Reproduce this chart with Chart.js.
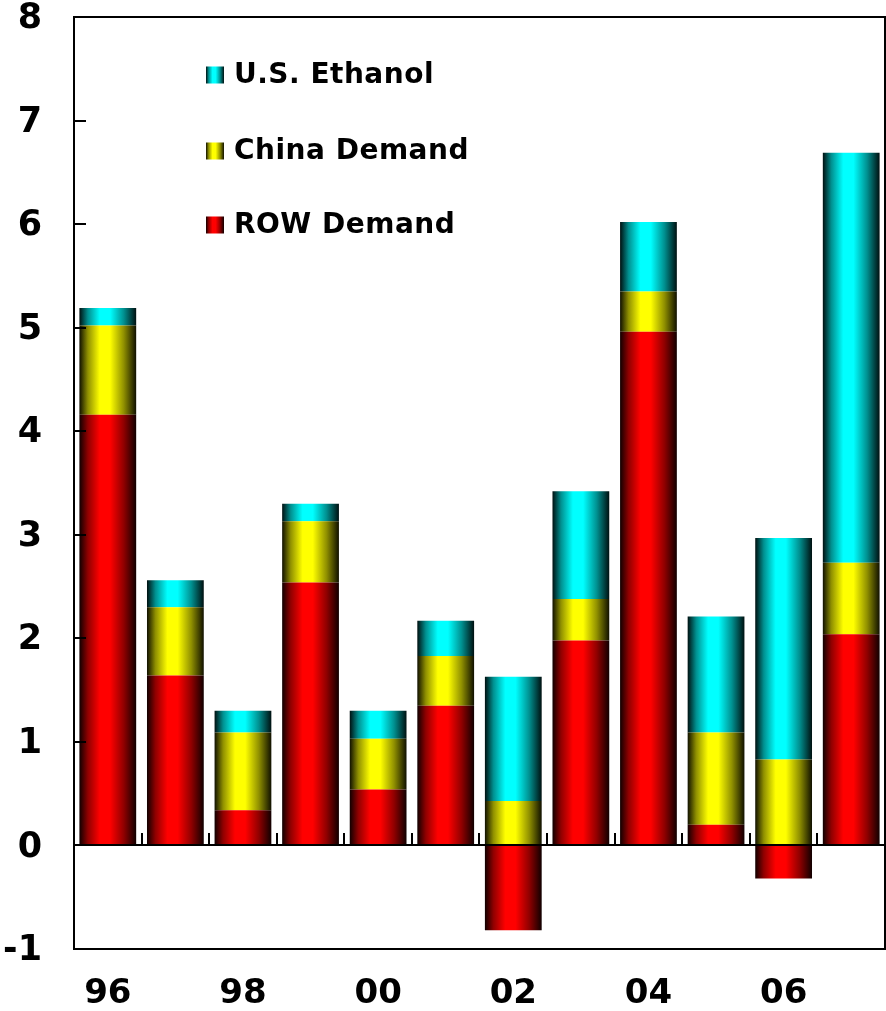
<!DOCTYPE html>
<html>
<head>
<meta charset="utf-8">
<script src="https://cdn.jsdelivr.net/npm/chart.js@4/dist/chart.umd.min.js"></script>
<style>
  html, body { margin: 0; padding: 0; background: #ffffff; }
  #wrap { width: 886px; height: 1011px; }
</style>
</head>
<body>
<div id="wrap"><canvas id="c" width="886" height="1011"></canvas></div>
<script>
// Year labels (two-digit) and demand contributions per year
const categories = ['96','97','98','99','00','01','02','03','04','05','06','07'];
const rowDemand   = [4.16, 1.64, 0.34, 2.54, 0.54, 1.35, -0.82, 1.98, 4.96, 0.20, -0.32, 2.04];
const chinaDemand = [0.86, 0.66, 0.75, 0.59, 0.49, 0.48, 0.43, 0.40, 0.39, 0.89, 0.83, 0.69];
const usEthanol   = [0.17, 0.26, 0.21, 0.17, 0.27, 0.34, 1.20, 1.04, 0.67, 1.12, 2.14, 3.96];
const seriesNames = ['ROW Demand', 'China Demand', 'U.S. Ethanol'];
const yMin = -1, yMax = 8;

const FONT = '"DejaVu Sans", Verdana, sans-serif';
const BAR_PCT = 0.84;

// Bright colour, dark edge colour and mid-shade for the cylinder shading
const palette = {
  red:    ['#ff0000', '#100000', '#900000'],
  yellow: ['#ffff00', '#101000', '#909000'],
  cyan:   ['#00ffff', '#001010', '#009090']
};

function cylGradient(ctx2d, left, right, cols) {
  const g = ctx2d.createLinearGradient(left, 0, right, 0);
  g.addColorStop(0.00, cols[1]);
  g.addColorStop(0.15, cols[2]);
  g.addColorStop(0.36, cols[0]);
  g.addColorStop(0.54, cols[0]);
  g.addColorStop(0.78, cols[2]);
  g.addColorStop(1.00, cols[1]);
  return g;
}

function barFill(cols) {
  return function (ctx) {
    const chart = ctx.chart;
    const xs = chart.scales.x;
    if (!chart.chartArea || !xs) return cols[0];
    const c = xs.getPixelForValue(ctx.dataIndex);
    const w = (xs.width / categories.length) * BAR_PCT;
    return cylGradient(chart.ctx, c - w / 2, c + w / 2, cols);
  };
}

// Frame, zero line and inward tick marks
const framePlugin = {
  id: 'frame',
  afterDatasetsDraw(chart) {
    const { ctx, chartArea: a, scales: { x, y } } = chart;
    ctx.save();
    ctx.strokeStyle = '#000';
    ctx.lineWidth = 2;
    ctx.strokeRect(a.left, a.top, a.right - a.left, a.bottom - a.top);

    const y0 = Math.round(y.getPixelForValue(0));
    ctx.beginPath();
    ctx.moveTo(a.left, y0);
    ctx.lineTo(a.right, y0);
    ctx.stroke();

    // y ticks pointing into the plot
    for (let v = yMin; v <= yMax; v++) {
      const py = Math.round(y.getPixelForValue(v));
      ctx.beginPath();
      ctx.moveTo(a.left, py);
      ctx.lineTo(a.left + 12, py);
      ctx.stroke();
    }
    // category boundary ticks standing on the zero line
    const step = x.width / categories.length;
    for (let i = 1; i < categories.length; i++) {
      const px = Math.round(x.getPixelForValue(i) - step / 2);
      ctx.beginPath();
      ctx.moveTo(px, y0);
      ctx.lineTo(px, y0 - 12);
      ctx.stroke();
    }
    ctx.restore();
  }
};

// Vertical legend inside the plot, top series first
const legendPlugin = {
  id: 'innerLegend',
  afterDraw(chart) {
    const { ctx } = chart;
    const rows = [2, 1, 0];
    const rowY = [75, 151, 225];
    ctx.save();
    ctx.font = 'bold 28px ' + FONT;
    if ('letterSpacing' in ctx) ctx.letterSpacing = '0.5px';
    ctx.textBaseline = 'middle';
    rows.forEach((di, k) => {
      const ds = chart.data.datasets[di];
      const bx = 206, bw = 18, bh = 17;
      ctx.fillStyle = cylGradient(ctx, bx, bx + bw, ds._cols);
      ctx.fillRect(bx, rowY[k] - bh / 2, bw, bh);
      ctx.fillStyle = '#000';
      ctx.fillText(ds.label, 234, rowY[k] + 1);
    });
    ctx.restore();
  }
};

const datasets = [
  { label: seriesNames[0], data: rowDemand,   _cols: palette.red },
  { label: seriesNames[1], data: chinaDemand, _cols: palette.yellow },
  { label: seriesNames[2], data: usEthanol,   _cols: palette.cyan }
].map(d => Object.assign(d, {
  backgroundColor: barFill(d._cols),
  borderWidth: 0,
  barPercentage: BAR_PCT,
  categoryPercentage: 1.0
}));

new Chart(document.getElementById('c'), {
  type: 'bar',
  data: { labels: categories, datasets },
  options: {
    responsive: false,
    animation: false,
    devicePixelRatio: 1,
    layout: { padding: { top: 17, right: 1, left: 0, bottom: 0 } },
    plugins: { legend: { display: false }, tooltip: { enabled: false } },
    scales: {
      x: {
        stacked: true,
        grid: { display: false, drawTicks: false },
        border: { display: false },
        afterFit(s) { s.height = 62; s.paddingLeft = 0; s.paddingRight = 0; },
        ticks: {
          autoSkip: false,
          maxRotation: 0,
          padding: 25,
          color: '#000',
          font: { family: FONT, size: 34, weight: 'bold' },
          callback(v, i) { return i % 2 === 0 ? categories[i] : ''; }
        }
      },
      y: {
        stacked: true,
        min: yMin,
        max: yMax,
        grid: { display: false, drawTicks: false },
        border: { display: false },
        afterFit(s) { s.width = 74; s.paddingTop = 0; s.paddingBottom = 0; },
        ticks: {
          stepSize: 1,
          padding: 32,
          labelOffset: 2,
          color: '#000',
          font: { family: FONT, size: 35, weight: 'bold' }
        }
      }
    }
  },
  plugins: [framePlugin, legendPlugin]
});
</script>
</body>
</html>
